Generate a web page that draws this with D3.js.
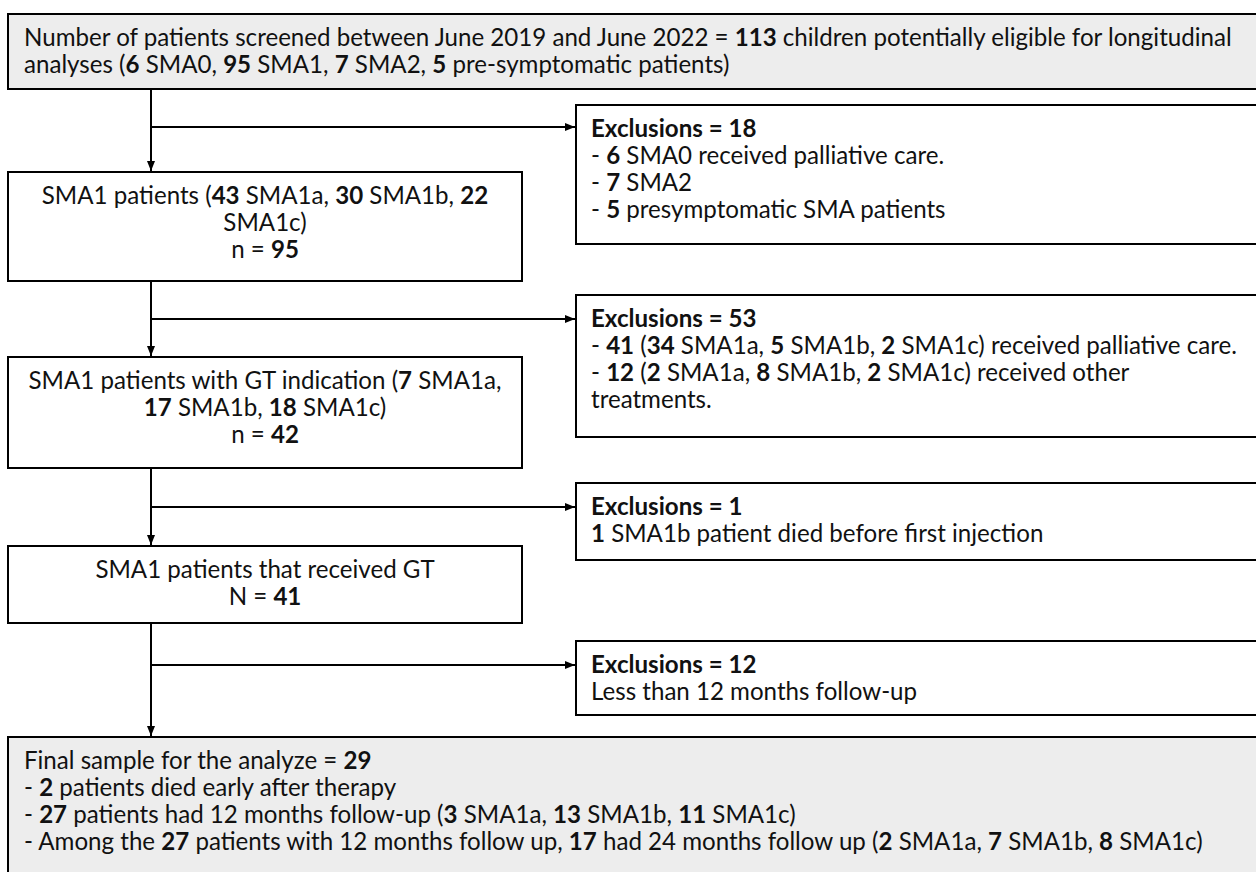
<!DOCTYPE html>
<html>
<head>
<meta charset="utf-8">
<script src="https://cdn.jsdelivr.net/npm/d3@7"></script>
<style>
  html, body { margin: 0; padding: 0; background: #ffffff; }
  svg { display: block; }
</style>
</head>
<body>
<div id="chart"></div>
<script>
// ---------------- DATA ----------------
const topLines = [
  "Number of patients screened between June 2019 and June 2022 = **113** children potentially eligible for longitudinal",
  "analyses (**6** SMA0, **95** SMA1, **7** SMA2, **5** pre-symptomatic patients)"
];
const stepLines = [
  ["SMA1 patients (**43** SMA1a, **30** SMA1b, **22**", "SMA1c)", "n = **95**"],
  ["SMA1 patients with GT indication (**7** SMA1a,", "**17** SMA1b, **18** SMA1c)", "n = **42**"],
  ["SMA1 patients that received GT", "N = **41**"]
];
const exclusionLines = [
  ["**Exclusions = 18**", "- **6** SMA0 received palliative care.", "- **7** SMA2", "- **5** presymptomatic SMA patients"],
  ["**Exclusions = 53**", "- **41** (**34** SMA1a, **5** SMA1b, **2** SMA1c) received palliative care.", "- **12** (**2** SMA1a, **8** SMA1b, **2** SMA1c) received other", "treatments."],
  ["**Exclusions = 1**", "**1** SMA1b patient died before first injection"],
  ["**Exclusions = 12**", "Less than 12 months follow-up"]
];
const finalLines = [
  "Final sample for the analyze = **29**",
  "- **2** patients died early after therapy",
  "- **27** patients had 12 months follow-up (**3** SMA1a, **13** SMA1b, **11** SMA1c)",
  "- Among the **27** patients with 12 months follow up, **17** had 24 months follow up (**2** SMA1a, **7** SMA1b, **8** SMA1c)"
];

// ---------------- LAYOUT ----------------
const W = 1256, H = 872;
const layout = {
  topBox: {x: 8, y: 14, w: 1270, h: 75},
  stepBoxes: [
    {x: 8, y: 172, w: 514, h: 109},
    {x: 8, y: 357, w: 514, h: 111},
    {x: 8, y: 546, w: 514, h: 77}
  ],
  exclBoxes: [
    {x: 576, y: 105, w: 700, h: 139},
    {x: 576, y: 295, w: 700, h: 142},
    {x: 576, y: 483, w: 700, h: 77},
    {x: 576, y: 641, w: 700, h: 74}
  ],
  branchY: [127, 319, 507, 665],
  finalBox: {x: 8, y: 737, w: 1270, h: 160},
  spineX: 151,
  lineH: 27,
  firstBase: 32,
  textLeft: 16,
  exclTextLeft: 15
};
const grayFill = "#ededed";
const fontFamily = "Lato, 'Open Sans', sans-serif";

const svg = d3.select("#chart").append("svg")
  .attr("width", W).attr("height", H)
  .attr("viewBox", `0 0 ${W} ${H}`);

svg.append("defs").append("marker")
  .attr("id", "arrow")
  .attr("viewBox", "0 0 10 10")
  .attr("refX", 10).attr("refY", 5)
  .attr("markerWidth", 10).attr("markerHeight", 10)
  .attr("markerUnits", "userSpaceOnUse")
  .attr("orient", "auto")
  .append("path").attr("d", "M0,1 L10,5 L0,9 Z").attr("fill", "#000");

// font size calibrated so the widest line matches the reference span
let fontSize = 20;
const probe = svg.append("text").attr("font-family", fontFamily).attr("font-size", 20);
function addRich(textSel, str) {
  const parts = str.split("**");
  parts.forEach((p, i) => {
    if (p === "") return;
    textSel.append("tspan").attr("font-weight", i % 2 === 1 ? 700 : 400).text(p);
  });
}
addRich(probe, topLines[0]);
const measured = probe.node().getComputedTextLength();
probe.remove();
if (measured > 0) fontSize = Math.max(16, Math.min(28, 20 * 1208 / measured));

function drawBox(b, fill) {
  svg.append("rect")
    .attr("x", b.x).attr("y", b.y).attr("width", b.w).attr("height", b.h)
    .attr("fill", fill).attr("stroke", "#000").attr("stroke-width", 2);
}
function drawLines(lines, b, align, dx) {
  lines.forEach((ln, i) => {
    const t = svg.append("text")
      .attr("font-family", fontFamily)
      .attr("font-size", fontSize)
      .attr("fill", "#111")
      .attr("y", b.y + layout.firstBase + i * layout.lineH);
    if (align === "middle") {
      t.attr("x", b.x + b.w / 2).attr("text-anchor", "middle");
    } else {
      t.attr("x", b.x + dx).attr("text-anchor", "start");
    }
    addRich(t, ln);
  });
}

// connectors
const sx = layout.spineX;
const downTargets = [layout.stepBoxes[0].y, layout.stepBoxes[1].y, layout.stepBoxes[2].y, layout.finalBox.y];
const downSources = [layout.topBox.y + layout.topBox.h, layout.stepBoxes[0].y + layout.stepBoxes[0].h,
                     layout.stepBoxes[1].y + layout.stepBoxes[1].h, layout.stepBoxes[2].y + layout.stepBoxes[2].h];
downTargets.forEach((ty, i) => {
  svg.append("line")
    .attr("x1", sx).attr("y1", downSources[i]).attr("x2", sx).attr("y2", ty - 1)
    .attr("stroke", "#000").attr("stroke-width", 2)
    .attr("marker-end", "url(#arrow)");
  svg.append("line")
    .attr("x1", sx).attr("y1", layout.branchY[i]).attr("x2", layout.exclBoxes[i].x - 1).attr("y2", layout.branchY[i])
    .attr("stroke", "#000").attr("stroke-width", 2)
    .attr("marker-end", "url(#arrow)");
});

// boxes
drawBox(layout.topBox, grayFill);
drawLines(topLines, layout.topBox, "start", layout.textLeft);
stepLines.forEach((lines, i) => {
  drawBox(layout.stepBoxes[i], "#ffffff");
  drawLines(lines, layout.stepBoxes[i], "middle", 0);
});
exclusionLines.forEach((lines, i) => {
  drawBox(layout.exclBoxes[i], "#ffffff");
  drawLines(lines, layout.exclBoxes[i], "start", layout.exclTextLeft);
});
drawBox(layout.finalBox, grayFill);
drawLines(finalLines, layout.finalBox, "start", layout.textLeft);
</script>
</body>
</html>
